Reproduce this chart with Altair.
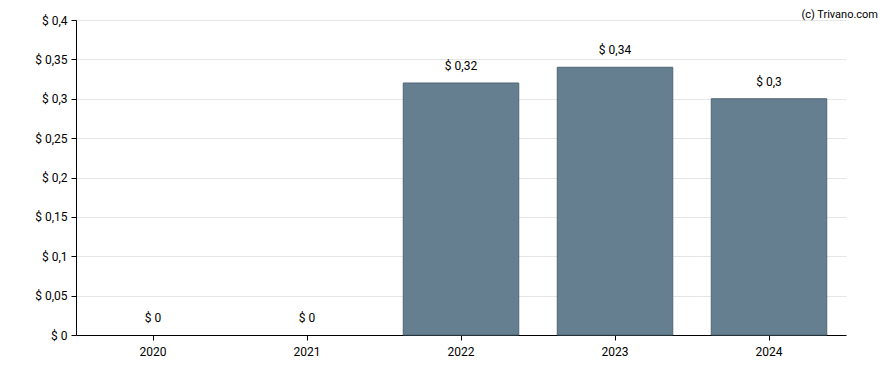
import altair as alt
import pandas as pd

years = ["2020", "2021", "2022", "2023", "2024"]
values = [0.0, 0.0, 0.32, 0.34, 0.30]
labels = ["$ 0", "$ 0", "$ 0,32", "$ 0,34", "$ 0,3"]

df = pd.DataFrame({"year": years, "value": values, "label": labels})

FONT = "Roboto"

x = alt.X("year:N", title=None, sort=years,
          scale=alt.Scale(paddingInner=0.25, paddingOuter=0.125),
          axis=alt.Axis(labelAngle=0, domainColor="#000", tickColor="#000",
                        tickSize=5, labelPadding=6, labelFontSize=12,
                        labelColor="#000", labelFont=FONT, grid=False))
y = alt.Y("value:Q", title=None,
          scale=alt.Scale(domain=[0, 0.4], nice=False),
          axis=alt.Axis(values=[0, 0.05, 0.1, 0.15, 0.2, 0.25, 0.3, 0.35, 0.4],
                        labelExpr="'$ ' + replace(format(datum.value, '.2~f'), '.', ',')",
                        labelOverlap=False,
                        domainColor="#000", tickColor="#000", tickSize=5,
                        labelPadding=4, labelFontSize=12, labelColor="#000",
                        labelFont=FONT, gridColor="#e6e6e6", gridWidth=1))

bars = alt.Chart(df).transform_filter("datum.value > 0").mark_bar(
    color="#657f91", stroke="#4f6675", strokeWidth=1).encode(x=x, y=y)
text = alt.Chart(df).mark_text(dy=-17, fontSize=12, font=FONT, color="#000").encode(
    x=x, y=y, text="label:N")

wm = alt.Chart(pd.DataFrame({"t": ["(c) Trivano.com"]})).mark_text(
    align="right", baseline="middle", fontSize=11, font=FONT, color="#000").encode(
    x=alt.value(802), y=alt.value(-5), text="t:N")

chart = alt.layer(bars, text, wm).properties(
    width=770, height=315,
    autosize=alt.AutoSizeParams(type="none"),
    padding={"left": 68, "top": 12, "right": 34, "bottom": 27},
).configure_view(stroke=None)

chart.save("out.html", embed_options={"renderer": "svg", "actions": False})
